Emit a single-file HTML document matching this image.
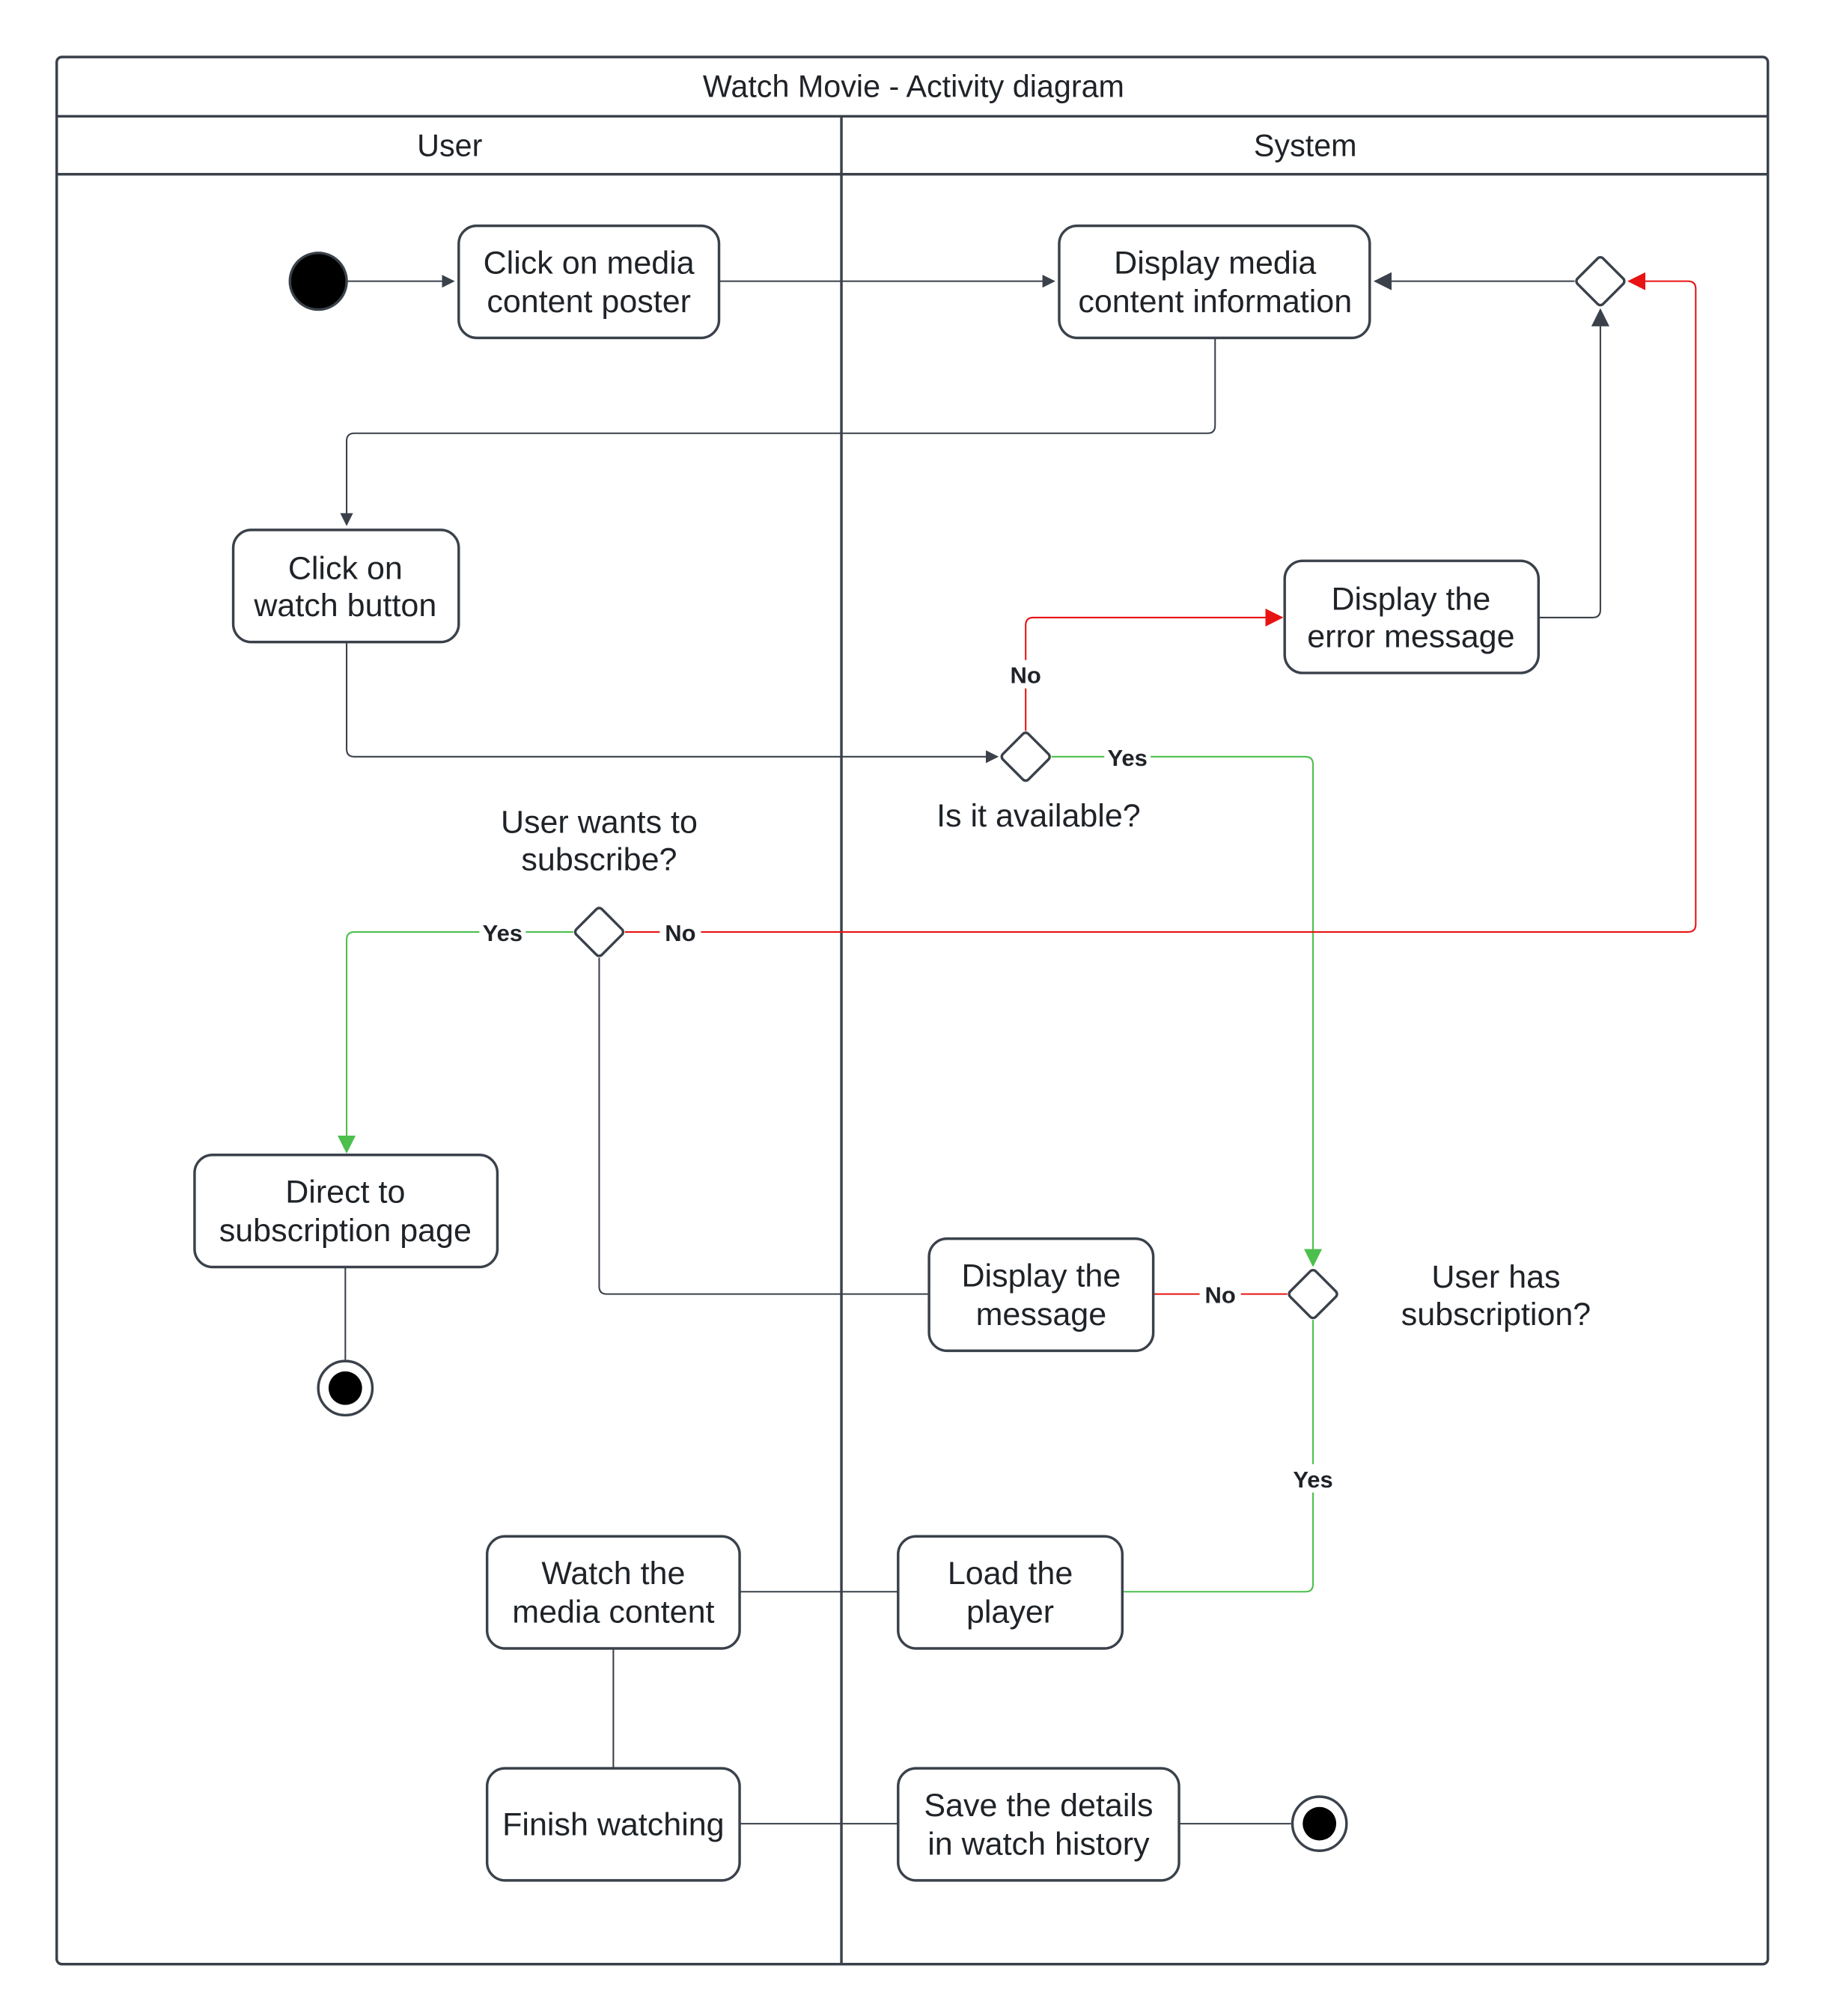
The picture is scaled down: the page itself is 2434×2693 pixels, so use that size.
<!DOCTYPE html>
<html><head><meta charset="utf-8"><style>
html,body{margin:0;padding:0;background:#fff}
svg{display:block}
text{font-family:"Liberation Sans",sans-serif;fill:#1f2328}
</style></head><body>
<svg width="2434" height="2693" viewBox="0 0 1414 1564" xmlns="http://www.w3.org/2000/svg">
<defs>
<marker id="ad" markerWidth="10" markerHeight="10" refX="9" refY="5" orient="auto" markerUnits="userSpaceOnUse"><path d="M0,0 L10,5 L0,10 z" fill="#3a414a"/></marker>
<marker id="ar" markerWidth="14" markerHeight="14" refX="13" refY="7" orient="auto" markerUnits="userSpaceOnUse"><path d="M0,0 L14,7 L0,14 z" fill="#e81313"/></marker>
<marker id="ag" markerWidth="14" markerHeight="14" refX="13" refY="7" orient="auto" markerUnits="userSpaceOnUse"><path d="M0,0 L14,7 L0,14 z" fill="#4cbf4c"/></marker>
<marker id="ad2" markerWidth="14" markerHeight="14" refX="13" refY="7" orient="auto" markerUnits="userSpaceOnUse"><path d="M0,0 L14,7 L0,14 z" fill="#3a414a"/></marker>
</defs>
<rect width="1414" height="1564" fill="#fff"/>
<g fill="none" stroke="#3a414a" stroke-width="2">
<rect x="44" y="44" width="1328" height="1480" rx="4"/>
<line x1="44" y1="90" x2="1372" y2="90"/>
<line x1="44" y1="135" x2="1372" y2="135"/>
<line x1="653" y1="90" x2="653" y2="1524"/>
</g>
<text x="709" y="75" font-size="24" text-anchor="middle">Watch Movie - Activity diagram</text>
<text x="349" y="121" font-size="24" text-anchor="middle">User</text>
<text x="1013" y="121" font-size="24" text-anchor="middle">System</text>

<g fill="none" stroke-width="1.2">
<path d="M269,218 H352" stroke="#3a414a" marker-end="url(#ad)"/>
<path d="M558,218 H818" stroke="#3a414a" marker-end="url(#ad)"/>
<path d="M1222,218 H1067" stroke="#3a414a" marker-end="url(#ad2)"/>
<path d="M943,262 V330 Q943,336 937,336 H275 Q269,336 269,342 V407" stroke="#3a414a" marker-end="url(#ad)"/>
<path d="M269,498 V581 Q269,587 275,587 H774" stroke="#3a414a" marker-end="url(#ad)"/>
<path d="M796,567 V485 Q796,479 802,479 H995" stroke="#e81313" marker-end="url(#ar)"/>
<path d="M1194,479 H1236 Q1242,479 1242,473 V240" stroke="#3a414a" marker-end="url(#ad2)"/>
<path d="M816,587 H1013 Q1019,587 1019,593 V982" stroke="#4cbf4c" marker-end="url(#ag)"/>
<path d="M999,1004 H895" stroke="#e81313"/>
<path d="M721,1004 H471 Q465,1004 465,998 V743" stroke="#3a414a"/>
<path d="M445,723 H275 Q269,723 269,729 V894" stroke="#4cbf4c" marker-end="url(#ag)"/>
<path d="M485,723 H1310 Q1316,723 1316,717 V224 Q1316,218 1310,218 H1264" stroke="#e81313" marker-end="url(#ar)"/>
<path d="M1019,1024 V1229 Q1019,1235 1013,1235 H871" stroke="#4cbf4c"/>
<path d="M574,1235 H697" stroke="#3a414a"/>
<path d="M476,1279 V1372" stroke="#3a414a"/>
<path d="M574,1415 H697" stroke="#3a414a"/>
<path d="M915,1415 H1002" stroke="#3a414a"/>
<path d="M268,983 V1055" stroke="#3a414a"/>
</g>

<g font-size="18" font-weight="bold" text-anchor="middle">
<rect x="780" y="512" width="32" height="22" fill="#fff"/><text x="796" y="530">No</text>
<rect x="857" y="576" width="36" height="22" fill="#fff"/><text x="875" y="594">Yes</text>
<rect x="931" y="993" width="32" height="22" fill="#fff"/><text x="947" y="1011">No</text>
<rect x="372" y="712" width="36" height="22" fill="#fff"/><text x="390" y="730">Yes</text>
<rect x="512" y="712" width="32" height="22" fill="#fff"/><text x="528" y="730">No</text>
<rect x="1001" y="1136" width="36" height="22" fill="#fff"/><text x="1019" y="1154">Yes</text>
</g>

<g fill="#fff" stroke="#3a414a" stroke-width="2">
<rect x="356" y="175" width="202" height="87" rx="14"/>
<rect x="822" y="175" width="241" height="87" rx="14"/>
<rect x="181" y="411" width="175" height="87" rx="14"/>
<rect x="997" y="435" width="197" height="87" rx="14"/>
<rect x="151" y="896" width="235" height="87" rx="14"/>
<rect x="721" y="961" width="174" height="87" rx="14"/>
<rect x="378" y="1192" width="196" height="87" rx="14"/>
<rect x="697" y="1192" width="174" height="87" rx="14"/>
<rect x="378" y="1372" width="196" height="87" rx="14"/>
<rect x="697" y="1372" width="218" height="87" rx="14"/>
<rect x="1228" y="204" width="28" height="28" rx="3" transform="rotate(45 1242 218)"/>
<rect x="782" y="573" width="28" height="28" rx="3" transform="rotate(45 796 587)"/>
<rect x="451" y="709" width="28" height="28" rx="3" transform="rotate(45 465 723)"/>
<rect x="1005" y="990" width="28" height="28" rx="3" transform="rotate(45 1019 1004)"/>
</g>
<circle cx="247" cy="218" r="22" fill="#000" stroke="#3a414a" stroke-width="2"/>
<circle cx="268" cy="1077" r="21" fill="#fff" stroke="#3a414a" stroke-width="2"/>
<circle cx="268" cy="1077" r="13" fill="#000"/>
<circle cx="1024" cy="1415" r="21" fill="#fff" stroke="#3a414a" stroke-width="2"/>
<circle cx="1024" cy="1415" r="13" fill="#000"/>

<g font-size="25" text-anchor="middle">
<text x="457" y="212">Click on media</text><text x="457" y="242">content poster</text>
<text x="943" y="212">Display media</text><text x="943" y="242">content information</text>
<text x="268" y="449">Click on</text><text x="268" y="478">watch button</text>
<text x="1095" y="473">Display the</text><text x="1095" y="502">error message</text>
<text x="268" y="933">Direct to</text><text x="268" y="963">subscription page</text>
<text x="808" y="998">Display the</text><text x="808" y="1028">message</text>
<text x="476" y="1229">Watch the</text><text x="476" y="1259">media content</text>
<text x="784" y="1229">Load the</text><text x="784" y="1259">player</text>
<text x="476" y="1424">Finish watching</text>
<text x="806" y="1409">Save the details</text><text x="806" y="1439">in watch history</text>
<text x="806" y="641">Is it available?</text>
<text x="465" y="646">User wants to</text><text x="465" y="675">subscribe?</text>
<text x="1161" y="999">User has</text><text x="1161" y="1028">subscription?</text>
</g>
</svg>
</body></html>
